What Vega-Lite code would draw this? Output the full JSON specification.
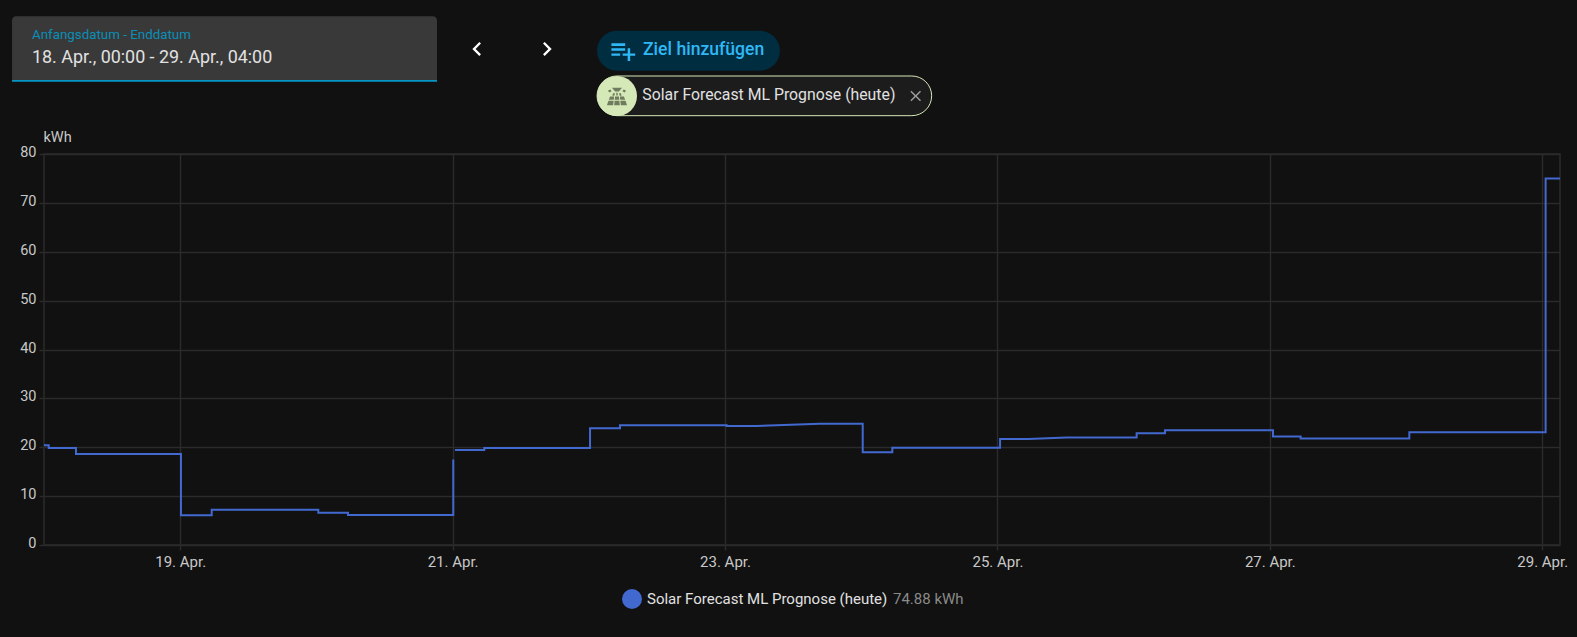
{
  "$schema": "https://vega.github.io/schema/vega-lite/v6.json",
  "width": 1516,
  "height": 391,
  "autosize": "none",
  "padding": {"left": 44, "top": 154, "right": 17, "bottom": 92},
  "background": "#111111",
  "datasets": {
    "forecast": [
      {"time": "2024-04-18T00:00:00Z", "kwh": 20.4, "run": 1, "series": "Solar Forecast ML Prognose (heute)"},
      {"time": "2024-04-18T00:50:00Z", "kwh": 20.4, "run": 1, "series": "Solar Forecast ML Prognose (heute)"},
      {"time": "2024-04-18T00:50:00Z", "kwh": 19.85, "run": 1, "series": "Solar Forecast ML Prognose (heute)"},
      {"time": "2024-04-18T05:38:00Z", "kwh": 19.85, "run": 1, "series": "Solar Forecast ML Prognose (heute)"},
      {"time": "2024-04-18T05:38:00Z", "kwh": 18.6, "run": 1, "series": "Solar Forecast ML Prognose (heute)"},
      {"time": "2024-04-19T00:08:00Z", "kwh": 18.6, "run": 1, "series": "Solar Forecast ML Prognose (heute)"},
      {"time": "2024-04-19T00:08:00Z", "kwh": 6.07, "run": 1, "series": "Solar Forecast ML Prognose (heute)"},
      {"time": "2024-04-19T05:33:00Z", "kwh": 6.07, "run": 1, "series": "Solar Forecast ML Prognose (heute)"},
      {"time": "2024-04-19T05:33:00Z", "kwh": 7.2, "run": 1, "series": "Solar Forecast ML Prognose (heute)"},
      {"time": "2024-04-20T00:20:00Z", "kwh": 7.2, "run": 1, "series": "Solar Forecast ML Prognose (heute)"},
      {"time": "2024-04-20T00:20:00Z", "kwh": 6.6, "run": 1, "series": "Solar Forecast ML Prognose (heute)"},
      {"time": "2024-04-20T05:34:00Z", "kwh": 6.6, "run": 1, "series": "Solar Forecast ML Prognose (heute)"},
      {"time": "2024-04-20T05:34:00Z", "kwh": 6.14, "run": 1, "series": "Solar Forecast ML Prognose (heute)"},
      {"time": "2024-04-21T00:07:00Z", "kwh": 6.14, "run": 1, "series": "Solar Forecast ML Prognose (heute)"},
      {"time": "2024-04-21T00:07:00Z", "kwh": 17.5, "run": 1, "series": "Solar Forecast ML Prognose (heute)"},
      {"time": "2024-04-21T00:25:00Z", "kwh": 19.45, "run": 2, "series": "Solar Forecast ML Prognose (heute)"},
      {"time": "2024-04-21T05:35:00Z", "kwh": 19.45, "run": 2, "series": "Solar Forecast ML Prognose (heute)"},
      {"time": "2024-04-21T05:35:00Z", "kwh": 19.85, "run": 2, "series": "Solar Forecast ML Prognose (heute)"},
      {"time": "2024-04-22T00:13:00Z", "kwh": 19.85, "run": 2, "series": "Solar Forecast ML Prognose (heute)"},
      {"time": "2024-04-22T00:13:00Z", "kwh": 23.9, "run": 2, "series": "Solar Forecast ML Prognose (heute)"},
      {"time": "2024-04-22T05:30:00Z", "kwh": 23.9, "run": 2, "series": "Solar Forecast ML Prognose (heute)"},
      {"time": "2024-04-22T05:30:00Z", "kwh": 24.5, "run": 2, "series": "Solar Forecast ML Prognose (heute)"},
      {"time": "2024-04-23T00:18:00Z", "kwh": 24.5, "run": 2, "series": "Solar Forecast ML Prognose (heute)"},
      {"time": "2024-04-23T00:18:00Z", "kwh": 24.35, "run": 2, "series": "Solar Forecast ML Prognose (heute)"},
      {"time": "2024-04-23T05:35:00Z", "kwh": 24.35, "run": 2, "series": "Solar Forecast ML Prognose (heute)"},
      {"time": "2024-04-23T16:44:00Z", "kwh": 24.8, "run": 2, "series": "Solar Forecast ML Prognose (heute)"},
      {"time": "2024-04-24T00:16:00Z", "kwh": 24.8, "run": 2, "series": "Solar Forecast ML Prognose (heute)"},
      {"time": "2024-04-24T00:16:00Z", "kwh": 18.97, "run": 2, "series": "Solar Forecast ML Prognose (heute)"},
      {"time": "2024-04-24T05:29:00Z", "kwh": 18.97, "run": 2, "series": "Solar Forecast ML Prognose (heute)"},
      {"time": "2024-04-24T05:29:00Z", "kwh": 19.9, "run": 2, "series": "Solar Forecast ML Prognose (heute)"},
      {"time": "2024-04-25T00:28:00Z", "kwh": 19.9, "run": 2, "series": "Solar Forecast ML Prognose (heute)"},
      {"time": "2024-04-25T00:28:00Z", "kwh": 21.7, "run": 2, "series": "Solar Forecast ML Prognose (heute)"},
      {"time": "2024-04-25T05:26:00Z", "kwh": 21.7, "run": 2, "series": "Solar Forecast ML Prognose (heute)"},
      {"time": "2024-04-25T12:13:00Z", "kwh": 22.0, "run": 2, "series": "Solar Forecast ML Prognose (heute)"},
      {"time": "2024-04-26T00:32:00Z", "kwh": 22.0, "run": 2, "series": "Solar Forecast ML Prognose (heute)"},
      {"time": "2024-04-26T00:32:00Z", "kwh": 22.85, "run": 2, "series": "Solar Forecast ML Prognose (heute)"},
      {"time": "2024-04-26T05:32:00Z", "kwh": 22.85, "run": 2, "series": "Solar Forecast ML Prognose (heute)"},
      {"time": "2024-04-26T05:32:00Z", "kwh": 23.47, "run": 2, "series": "Solar Forecast ML Prognose (heute)"},
      {"time": "2024-04-27T00:34:00Z", "kwh": 23.47, "run": 2, "series": "Solar Forecast ML Prognose (heute)"},
      {"time": "2024-04-27T00:34:00Z", "kwh": 22.2, "run": 2, "series": "Solar Forecast ML Prognose (heute)"},
      {"time": "2024-04-27T05:26:00Z", "kwh": 22.2, "run": 2, "series": "Solar Forecast ML Prognose (heute)"},
      {"time": "2024-04-27T05:26:00Z", "kwh": 21.8, "run": 2, "series": "Solar Forecast ML Prognose (heute)"},
      {"time": "2024-04-28T00:35:00Z", "kwh": 21.8, "run": 2, "series": "Solar Forecast ML Prognose (heute)"},
      {"time": "2024-04-28T00:35:00Z", "kwh": 23.05, "run": 2, "series": "Solar Forecast ML Prognose (heute)"},
      {"time": "2024-04-29T00:36:00Z", "kwh": 23.05, "run": 2, "series": "Solar Forecast ML Prognose (heute)"},
      {"time": "2024-04-29T00:36:00Z", "kwh": 75.0, "run": 2, "series": "Solar Forecast ML Prognose (heute)"},
      {"time": "2024-04-29T03:08:00Z", "kwh": 75.0, "run": 2, "series": "Solar Forecast ML Prognose (heute)"}
    ]
  },
  "data": {"name": "forecast"},
  "layer": [
    {
      "mark": {"type": "line", "interpolate": "linear", "strokeWidth": 2},
      "encoding": {
        "x": {
          "field": "time",
          "type": "temporal",
          "title": null,
          "scale": {
            "type": "utc",
            "domain": [
              {"year": 2024, "month": 4, "date": 18, "hours": 0, "minutes": 0, "utc": true},
              {"year": 2024, "month": 4, "date": 29, "hours": 3, "minutes": 8, "utc": true}
            ]
          },
          "axis": {
            "values": [
              {"year": 2024, "month": 4, "date": 19, "utc": true},
              {"year": 2024, "month": 4, "date": 21, "utc": true},
              {"year": 2024, "month": 4, "date": 23, "utc": true},
              {"year": 2024, "month": 4, "date": 25, "utc": true},
              {"year": 2024, "month": 4, "date": 27, "utc": true},
              {"year": 2024, "month": 4, "date": 29, "utc": true}
            ],
            "format": "%-d. %b.",
            "labelFontSize": 15,
            "labelPadding": 4,
            "labelFlush": false,
            "labelOverlap": false
          }
        },
        "y": {
          "field": "kwh",
          "type": "quantitative",
          "scale": {"domain": [0, 80], "nice": false},
          "axis": {
            "values": [0, 10, 20, 30, 40, 50, 60, 70, 80],
            "title": "kWh",
            "titleAngle": 0,
            "titleAlign": "left",
            "titleBaseline": "alphabetic",
            "titleX": -1,
            "titleY": -12.5,
            "labelFontSize": 14.5,
            "labelOffset": -1.5,
            "labelPadding": 3
          }
        },
        "detail": {"field": "run", "type": "nominal"},
        "color": {
          "field": "series",
          "type": "nominal",
          "scale": {"range": ["#4269d0"]},
          "legend": {
            "title": "74.88 kWh",
            "titleOrient": "right",
            "orient": "none",
            "legendX": 578,
            "legendY": 435,
            "symbolType": "circle",
            "symbolSize": 400,
            "symbolFillColor": "#4269d0",
            "symbolStrokeColor": "#4269d0",
            "symbolStrokeWidth": 0,
            "labelFontSize": 15,
            "labelColor": "#e1e1e1",
            "labelLimit": 0,
            "labelOffset": 5,
            "titleFontSize": 15,
            "titleFontWeight": "normal",
            "titleColor": "#8a8a8a",
            "titlePadding": 6
          }
        }
      }
    },
    {
      "data": {"values": [{}]},
      "mark": {"type": "rect", "fill": "#393939", "cornerRadiusTopLeft": 4, "cornerRadiusTopRight": 4},
      "encoding": {
        "x": {"datum": {"year": 2024, "month": 4, "date": 17, "hours": 18, "minutes": 22, "utc": true}, "type": "temporal"},
        "x2": {"datum": {"year": 2024, "month": 4, "date": 20, "hours": 21, "minutes": 15, "utc": true}},
        "y": {"datum": 108.2, "type": "quantitative"},
        "y2": {"datum": 95.14}
      }
    },
    {
      "data": {"values": [{}]},
      "mark": {"type": "rect", "fill": "#0696c6"},
      "encoding": {
        "x": {"datum": {"year": 2024, "month": 4, "date": 17, "hours": 18, "minutes": 22, "utc": true}, "type": "temporal"},
        "x2": {"datum": {"year": 2024, "month": 4, "date": 20, "hours": 21, "minutes": 15, "utc": true}},
        "y": {"datum": 95.14, "type": "quantitative"},
        "y2": {"datum": 94.79}
      }
    },
    {
      "data": {"values": [{"label": "Anfangsdatum - Enddatum"}]},
      "mark": {"type": "text", "align": "left", "baseline": "alphabetic", "fontSize": 13.35, "color": "#0a8fb8"},
      "encoding": {
        "x": {"datum": {"year": 2024, "month": 4, "date": 17, "hours": 21, "minutes": 53, "utc": true}, "type": "temporal"},
        "y": {"datum": 103.6, "type": "quantitative"},
        "text": {"field": "label"}
      }
    },
    {
      "data": {"values": [{"label": "18. Apr., 00:00 - 29. Apr., 04:00"}]},
      "mark": {"type": "text", "align": "left", "baseline": "alphabetic", "fontSize": 17.9, "color": "#e1e1e1"},
      "encoding": {
        "x": {"datum": {"year": 2024, "month": 4, "date": 17, "hours": 21, "minutes": 53, "utc": true}, "type": "temporal"},
        "y": {"datum": 98.6, "type": "quantitative"},
        "text": {"field": "label"}
      }
    },
    {
      "data": {"values": [{}]},
      "mark": {"type": "point", "filled": true, "opacity": 1, "color": "#ffffff", "size": 784, "shape": "M0.284 0.382L-0.098 0L0.284 -0.383L0.167 -0.5L-0.333 0L0.167 0.5Z"},
      "encoding": {
        "x": {"datum": {"year": 2024, "month": 4, "date": 21, "hours": 4, "minutes": 18, "utc": true}, "type": "temporal"},
        "y": {"datum": 101.5, "type": "quantitative"}
      }
    },
    {
      "data": {"values": [{}]},
      "mark": {"type": "point", "filled": true, "opacity": 1, "color": "#ffffff", "size": 784, "shape": "M-0.284 0.382L0.098 0L-0.284 -0.383L-0.167 -0.5L0.333 0L-0.167 0.5Z"},
      "encoding": {
        "x": {"datum": {"year": 2024, "month": 4, "date": 21, "hours": 16, "minutes": 38, "utc": true}, "type": "temporal"},
        "y": {"datum": 101.5, "type": "quantitative"}
      }
    },
    {
      "data": {"values": [{}]},
      "mark": {"type": "rect", "fill": "#012d40", "cornerRadius": 20},
      "encoding": {
        "x": {"datum": {"year": 2024, "month": 4, "date": 22, "hours": 1, "minutes": 27, "utc": true}, "type": "temporal"},
        "x2": {"datum": {"year": 2024, "month": 4, "date": 23, "hours": 9, "minutes": 41, "utc": true}},
        "y": {"datum": 105.2, "type": "quantitative"},
        "y2": {"datum": 97.05}
      }
    },
    {
      "data": {"values": [{}]},
      "mark": {"type": "point", "filled": true, "opacity": 1, "color": "#2fb8f5", "size": 900, "shape": "M-0.75 0.333H-0.167V0.167H-0.75Z M0.5 0.167V-0.167H0.333V0.167H0V0.333H0.333V0.667H0.5V0.333H0.833V0.167Z M0.167 -0.5H-0.75V-0.333H0.167Z M0.167 -0.167H-0.75V0H0.167Z"},
      "encoding": {
        "x": {"datum": {"year": 2024, "month": 4, "date": 22, "hours": 5, "minutes": 58, "utc": true}, "type": "temporal"},
        "y": {"datum": 101.1, "type": "quantitative"}
      }
    },
    {
      "data": {"values": [{"label": "Ziel hinzufügen"}]},
      "mark": {"type": "text", "align": "left", "baseline": "alphabetic", "fontSize": 17.6, "fontWeight": 500, "color": "#2fb8f5"},
      "encoding": {
        "x": {"datum": {"year": 2024, "month": 4, "date": 22, "hours": 9, "minutes": 33, "utc": true}, "type": "temporal"},
        "y": {"datum": 100.26, "type": "quantitative"},
        "text": {"field": "label"}
      }
    },
    {
      "data": {"values": [{}]},
      "mark": {"type": "rect", "fill": "#1c1c1c", "stroke": "#d5e8b8", "strokeWidth": 1, "cornerRadius": 20},
      "encoding": {
        "x": {"datum": {"year": 2024, "month": 4, "date": 22, "hours": 1, "minutes": 27, "utc": true}, "type": "temporal"},
        "x2": {"datum": {"year": 2024, "month": 4, "date": 24, "hours": 12, "minutes": 25, "utc": true}},
        "y": {"datum": 95.96, "type": "quantitative"},
        "y2": {"datum": 87.84}
      }
    },
    {
      "data": {"values": [{}]},
      "mark": {"type": "point", "filled": true, "opacity": 1, "color": "#d5e8b8", "size": 1600, "shape": "circle"},
      "encoding": {
        "x": {"datum": {"year": 2024, "month": 4, "date": 22, "hours": 4, "minutes": 58, "utc": true}, "type": "temporal"},
        "y": {"datum": 91.87, "type": "quantitative"}
      }
    },
    {
      "data": {"values": [{}]},
      "mark": {"type": "point", "filled": true, "opacity": 1, "color": "#6f7d5e", "size": 576, "shape": "M-0.42 -0.68L0.42 -0.68L0.16 -0.38L-0.16 -0.38Z M-0.75 -0.45L-0.55 -0.55L-0.45 -0.4L-0.65 -0.3Z M0.75 -0.45L0.55 -0.55L0.45 -0.4L0.65 -0.3Z M-0.33 -0.22L-0.18 -0.25L-0.22 -0.02L-0.38 -0.02Z M0.33 -0.22L0.18 -0.25L0.22 -0.02L0.38 -0.02Z M-0.06 -0.28L0.06 -0.28L0.06 -0.05L-0.06 -0.05Z M-0.58 0.05L-0.24 0.05L-0.27 0.32L-0.68 0.32Z M-0.16 0.05L0.16 0.05L0.19 0.32L-0.19 0.32Z M0.58 0.05L0.24 0.05L0.27 0.32L0.68 0.32Z M-0.71 0.4L-0.28 0.4L-0.32 0.78L-0.84 0.78Z M-0.2 0.4L0.2 0.4L0.23 0.78L-0.23 0.78Z M0.71 0.4L0.28 0.4L0.32 0.78L0.84 0.78Z"},
      "encoding": {
        "x": {"datum": {"year": 2024, "month": 4, "date": 22, "hours": 4, "minutes": 58, "utc": true}, "type": "temporal"},
        "y": {"datum": 91.87, "type": "quantitative"}
      }
    },
    {
      "data": {"values": [{"label": "Solar Forecast ML Prognose (heute)"}]},
      "mark": {"type": "text", "align": "left", "baseline": "alphabetic", "fontSize": 15.8, "color": "#e1e1e1"},
      "encoding": {
        "x": {"datum": {"year": 2024, "month": 4, "date": 22, "hours": 9, "minutes": 26, "utc": true}, "type": "temporal"},
        "y": {"datum": 91.05, "type": "quantitative"},
        "text": {"field": "label"}
      }
    },
    {
      "data": {"values": [{}]},
      "mark": {"type": "point", "filled": true, "opacity": 1, "color": "#9b9b9b", "size": 335, "shape": "M0.583 -0.466L0.466 -0.583L0 -0.118L-0.466 -0.583L-0.583 -0.466L-0.118 0L-0.583 0.466L-0.466 0.583L0 0.118L0.466 0.583L0.583 0.466L0.118 0Z"},
      "encoding": {
        "x": {"datum": {"year": 2024, "month": 4, "date": 24, "hours": 9, "minutes": 36, "utc": true}, "type": "temporal"},
        "y": {"datum": 91.87, "type": "quantitative"}
      }
    }
  ],
  "config": {
    "font": "Roboto",
    "view": {"stroke": "#2b2b2b", "strokeWidth": 1.5},
    "axis": {
      "domain": false,
      "grid": true,
      "gridColor": "#2b2b2b",
      "gridOpacity": 1,
      "gridWidth": 1.5,
      "tickColor": "#2b2b2b",
      "tickWidth": 1.5,
      "tickSize": 5,
      "labelColor": "#c8c8c8",
      "labelFontSize": 14,
      "titleColor": "#c8c8c8",
      "titleFontSize": 14.5,
      "titleFontWeight": "normal"
    }
  }
}
